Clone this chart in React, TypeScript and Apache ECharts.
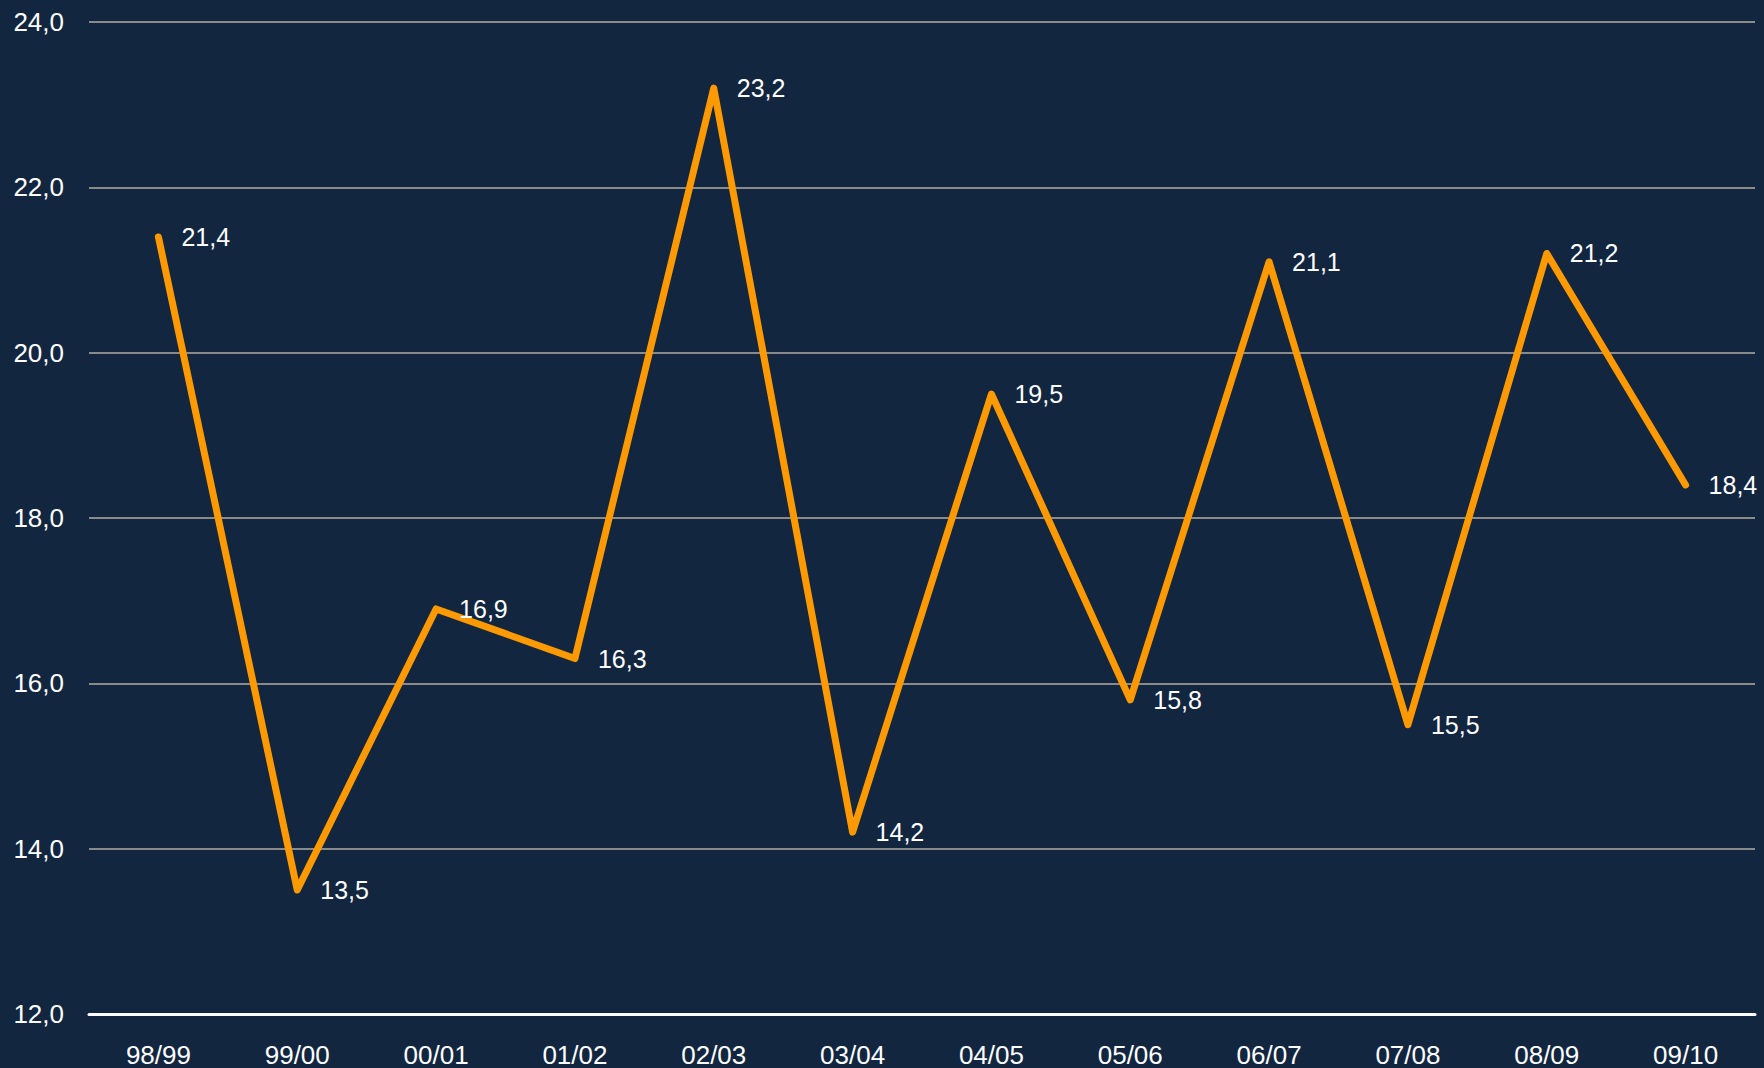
import React, { useEffect, useRef } from "react";
import * as echarts from "echarts";

const categories = ["98/99", "99/00", "00/01", "01/02", "02/03", "03/04", "04/05", "05/06", "06/07", "07/08", "08/09", "09/10"];
const values = [21.4, 13.5, 16.9, 16.3, 23.2, 14.2, 19.5, 15.8, 21.1, 15.5, 21.2, 18.4];
const yMin = 12;
const yMax = 24;
const yStep = 2;

const fmt = (v: number) => v.toFixed(1).replace(".", ",");

export default function App() {
  const ref = useRef<HTMLDivElement>(null);
  useEffect(() => {
    if (!ref.current) return;
    const chart = echarts.init(ref.current, undefined, { renderer: "svg" });
    chart.setOption({
      animation: false,
      backgroundColor: "#12263F",
      textStyle: { fontFamily: "Liberation Sans, Arial, sans-serif" },
      grid: { left: 89, right: 9, top: 22, bottom: 54 },
      xAxis: {
        type: "category",
        data: categories,
        boundaryGap: true,
        axisTick: { show: false },
        axisLine: { lineStyle: { color: "#ffffff", width: 3 } },
        axisLabel: { color: "#ffffff", fontSize: 26, margin: 28, interval: 0 },
        splitLine: { show: false },
      },
      yAxis: {
        type: "value",
        min: yMin,
        max: yMax,
        interval: yStep,
        axisLine: { show: false },
        axisTick: { show: false },
        axisLabel: { color: "#ffffff", fontSize: 26, margin: 25, formatter: (v: number) => fmt(v) },
        splitLine: { lineStyle: { color: "#8a8a8a", width: 2 } },
      },
      series: [
        {
          type: "line",
          data: values,
          symbol: "circle",
          symbolSize: 2,
          showSymbol: true,
          itemStyle: { color: "#FF9900" },
          lineStyle: { color: "#FF9900", width: 7, cap: "round", join: "round" },
          label: {
            show: true,
            position: "right",
            distance: 22,
            color: "#ffffff",
            fontSize: 25,
            formatter: (p: any) => fmt(p.value),
          },
        },
      ],
    });
    return () => chart.dispose();
  }, []);
  return <div ref={ref} style={{ position: "fixed", left: 0, top: 0, width: 1764, height: 1068 }} />;
}
